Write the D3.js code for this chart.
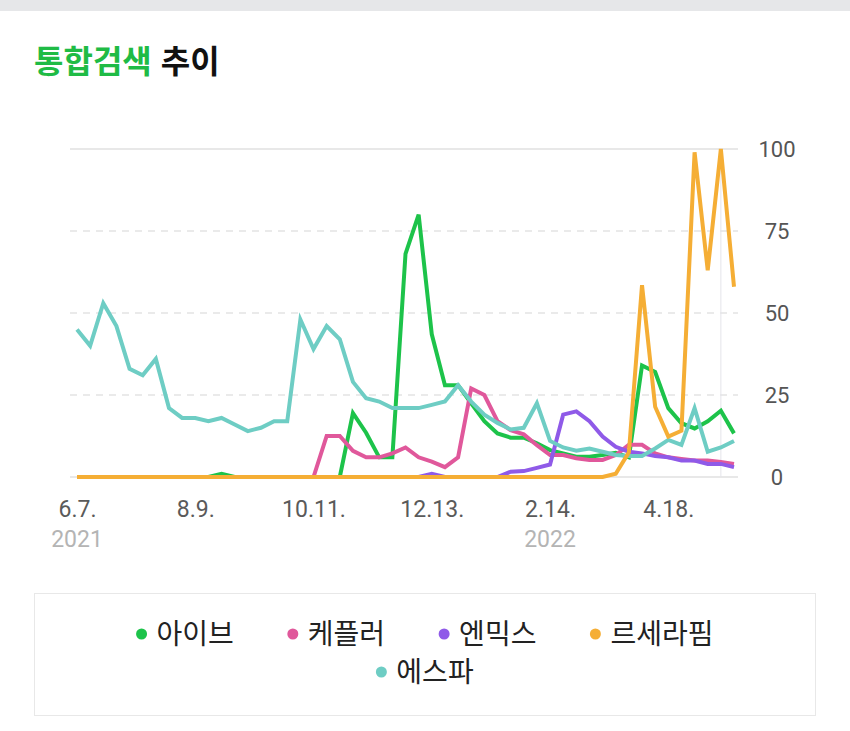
<!DOCTYPE html>
<html>
<head>
<meta charset="utf-8">
<script src="https://cdn.jsdelivr.net/npm/d3@7"></script>
<style>
  body { margin: 0; background: #fff; }
  svg { display: block; font-family: "Noto Sans CJK KR", "Noto Sans", sans-serif; }
  .num { font-family: Roboto, "Noto Sans", sans-serif; }
</style>
</head>
<body>
<svg id="chart" width="850" height="731"></svg>
<script>
// weekly series, starting 2021-06-07
var startDate = "2021-06-07";
var seriesNames = ["아이브", "케플러", "엔믹스", "르세라핌", "에스파"];
var seriesColors = ["#1dc34a", "#e0589b", "#8f5ae8", "#f5ae35", "#6ecdc4"];

var ive = [0,0,0,0,0,0,0,0,0,0, 0,1,0,0,0,0,0,0,0,0,
  0,19.5,13.5,6,6,68,80,43.5,28,28, 22.5,17,13.3,12,12,10.3,8.2,7.2,6.2,6.2,
  6.7,7.4,6,34,32,21,16.4,14.8,17,20.2,13.3];
var kep1er = [0,0,0,0,0,0,0,0,0,0, 0,0,0,0,0,0,0,0,0,12.5,
  12.5,8,6,6,7.2,9,6,4.7,3,6, 27,25,17,14.3,13,9.7,6.7,6.7,5.7,5.2,
  5.2,6.7,9.8,9.8,7.2,6,5.5,5,5,4.6,4];
var nmixx = [0,0,0,0,0,0,0,0,0,0, 0,0,0,0,0,0,0,0,0,0,
  0,0,0,0,0,0,0,1,0,0, 0,0,0,1.6,1.8,2.8,3.8,19,20,17,
  12.3,9.2,7.7,7.2,6.4,6,5,5,4,4,3];
var lesserafim = [0,0,0,0,0,0,0,0,0,0, 0,0,0,0,0,0,0,0,0,0,
  0,0,0,0,0,0,0,0,0,0, 0,0,0,0,0,0,0,0,0,0,
  0,1,7.5,58.5,21.4,12.3,14.1,99,63,100,58];
var aespa = [45,40,53,46,33,31,36,21,18,18, 17,18,16,14,15,17,17,48,39,46,
  42,29,24,23,21,21,21,22,23,28, 23,19,16.5,14.5,15,22.5,11,9,8,8.7,
  7.7,6.7,6.4,6.4,8.7,11.3,9.8,21,7.7,9,11];
var seriesValues = [ive, kep1er, nmixx, lesserafim, aespa];
var drawOrder = [0, 1, 2, 4, 3];

var yTicks = [0, 25, 50, 75, 100];
var xTickDates = ["2021-06-07", "2021-08-09", "2021-10-11", "2021-12-13", "2022-02-14", "2022-04-18"];
var legendRows = [[0, 1, 2, 3], [4]];

var parse = d3.timeParse("%Y-%m-%d");
var t0 = parse(startDate);
var dates = ive.map(function(d, i) { return d3.timeWeek.offset(t0, i); });

var svg = d3.select("#chart");

// top grey band
svg.append("rect").attr("x", 0).attr("y", 0).attr("width", 850).attr("height", 11).attr("fill", "#e6e7e9");

// title
var title = svg.append("text").attr("x", 34).attr("y", 73)
  .style("font-size", "32px").style("font-weight", 700);
title.append("tspan").attr("fill", "#1fbb45").text("통합검색");
title.append("tspan").attr("fill", "#111").attr("dx", 9).text("추이");

var x = d3.scaleTime().domain([dates[0], dates[dates.length - 1]]).range([77, 734]);
var y = d3.scaleLinear().domain([0, 100]).range([477, 149]);

// grid
var grid = svg.append("g");
yTicks.forEach(function(t) {
  var solid = t === 100 || t === 0;
  grid.append("line")
    .attr("x1", 70).attr("x2", 738)
    .attr("y1", y(t)).attr("y2", y(t))
    .attr("stroke", solid ? "#e0e0e0" : "#e3e3e3")
    .attr("stroke-width", solid ? 1.5 : 1.3)
    .attr("stroke-dasharray", solid ? null : "7,6");
});
// marker line at last full week
grid.append("line")
  .attr("x1", x(dates[49])).attr("x2", x(dates[49]))
  .attr("y1", y(100)).attr("y2", y(0))
  .attr("stroke", "#e4e4ea").attr("stroke-width", 1);

// y axis labels (right)
var yAxis = d3.axisRight(y).tickValues(yTicks).tickSize(0).tickPadding(0);
var gy = svg.append("g").attr("transform", "translate(777,0)").call(yAxis);
gy.select(".domain").remove();
gy.selectAll("text").attr("class", "num").attr("text-anchor", "middle").attr("x", 0)
  .style("font-size", "22px").attr("fill", "#555").attr("font-family", null);

// x axis labels
var fmt = d3.timeFormat("%-m.%-d.");
var xAxis = d3.axisBottom(x).tickValues(xTickDates.map(parse)).tickFormat(fmt).tickSize(0).tickPadding(0);
var gx = svg.append("g").attr("transform", "translate(0,500)").call(xAxis);
gx.select(".domain").remove();
gx.selectAll("text").attr("class", "num").attr("dy", "0.72em")
  .style("font-size", "23px").attr("fill", "#5a5a5a").attr("font-family", null);

// year labels under the first tick of each year
var lastYear = null;
xTickDates.map(parse).forEach(function(d) {
  var yr = d.getFullYear();
  if (yr !== lastYear) {
    svg.append("text").attr("class", "num").attr("x", x(d)).attr("y", 547).attr("text-anchor", "middle")
      .style("font-size", "23px").attr("fill", "#b4b4b4").text(yr);
    lastYear = yr;
  }
});

// lines
var line = d3.line()
  .x(function(d, i) { return x(dates[i]); })
  .y(function(d) { return y(d); });
drawOrder.forEach(function(s) {
  svg.append("path").datum(seriesValues[s])
    .attr("fill", "none")
    .attr("stroke", seriesColors[s])
    .attr("stroke-width", 4)
    .attr("stroke-linejoin", "miter")
    .attr("d", line);
});

// legend
svg.append("rect").attr("x", 34.5).attr("y", 593.5).attr("width", 781).attr("height", 122)
  .attr("fill", "none").attr("stroke", "#e8e8e8").attr("stroke-width", 1);
var legend = svg.append("g");
var centerX = 425, rowY = [634, 672], dotGap = 15, itemGap = 59;
legendRows.forEach(function(row, r) {
  var items = row.map(function(s) {
    var g = legend.append("g");
    g.append("circle").attr("r", 5.5).attr("fill", seriesColors[s]);
    var t = g.append("text").attr("x", dotGap).attr("dy", "0.36em")
      .style("font-size", "28px").attr("fill", "#222").text(seriesNames[s]);
    return { g: g, w: dotGap + t.node().getComputedTextLength() };
  });
  var total = d3.sum(items, function(d) { return d.w; }) + itemGap * (items.length - 1) + 5;
  var cx = centerX - total / 2 + 5;
  items.forEach(function(it) {
    it.g.attr("transform", "translate(" + cx + "," + rowY[r] + ")");
    cx += it.w + itemGap;
  });
});
</script>
</body>
</html>
